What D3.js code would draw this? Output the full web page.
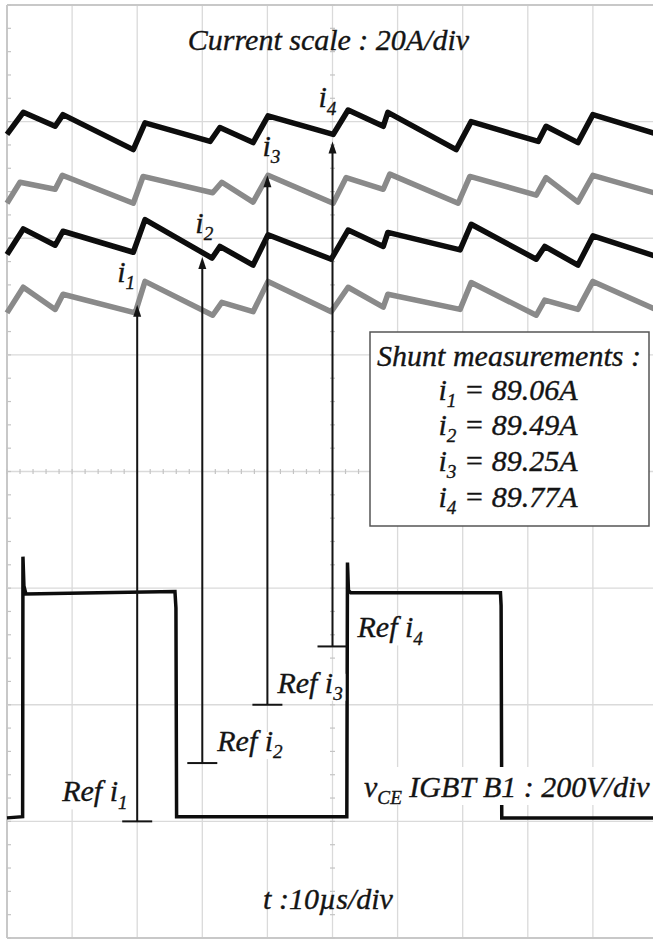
<!DOCTYPE html>
<html><head><meta charset="utf-8">
<script src="https://cdn.jsdelivr.net/npm/d3@7"></script>
</head><body style="margin:0"><svg id="c" width="653" height="940"></svg>
<script>
// ---- data (time in µs, amplitude in screen divisions) ----
const gridTime = [0,10,20,30,40,50,60,70,80,90,100];
const gridDiv = [0,1,2,3,4,5,6,7,8];

const tA = [0,2.5,7.4,8.6,19.4,21.2,31.2,32.7,37.8,40.1,50.1,52.4,57.8,58.5,69.0,71.3,81.6,82.8,87.7,90.0,100];
const yA = [6.89,7.08,6.96,7.06,6.76,6.99,6.83,6.95,6.82,7.05,6.89,7.10,6.96,7.08,6.76,7.00,6.83,6.96,6.82,7.06,6.89];

const tB = [0,2.0,7.4,8.5,19.4,20.9,31.6,33.0,37.8,40.1,50.1,52.1,57.8,58.8,69.3,71.1,81.3,82.8,87.7,90.0,100];
const yB = [6.30,6.48,6.42,6.54,6.30,6.53,6.39,6.48,6.31,6.54,6.30,6.52,6.42,6.55,6.30,6.53,6.37,6.52,6.31,6.54,6.38];

const tC = [0,2.5,7.4,8.6,19.4,21.2,31.5,32.7,37.8,40.1,49.8,52.4,57.8,58.5,69.6,71.3,81.3,82.6,87.7,90.0,100];
const yC = [5.86,6.08,5.94,6.06,5.88,6.16,5.83,5.93,5.77,6.03,5.82,6.07,5.93,6.05,5.90,6.12,5.82,5.93,5.77,6.02,5.84];

const tD = [0,2.5,7.4,8.6,19.7,21.2,31.6,33.0,37.8,40.1,49.8,52.4,57.8,58.5,69.6,71.3,81.3,82.6,87.7,90.0,100];
const yD = [5.36,5.58,5.39,5.52,5.36,5.63,5.34,5.45,5.37,5.63,5.37,5.58,5.41,5.52,5.39,5.62,5.34,5.47,5.39,5.63,5.38];

const tV = [0,2.4,2.45,2.6,2.9,14.0,25.8,25.95,26.05,52.2,52.3,52.45,52.8,64.0,75.8,75.9,76.0,100];
const yV = [1.03,1.04,3.27,3.02,2.95,2.96,2.97,2.83,1.04,1.04,3.22,2.98,2.96,2.96,2.96,2.85,1.03,1.03];

const arrowIdx = ["1","2","3","4"];
const arrowT = [20,30,40,50];
const arrowTip = [5.43,5.84,6.54,6.83];
const arrowRef = [1.0,1.5,2.0,2.5];
const shuntValues = ["89.06","89.49","89.25","89.77"];

const titleText = "Current scale : 20A/div";
const timeText = "t :10\u00B5s/div";
const boxTitle = "Shunt measurements :";

// ---- drawing ----
const svg = d3.select("#c");
const x = d3.scaleLinear().domain([0,100]).range([7,658]);
const y = d3.scaleLinear().domain([0,8]).range([938,5]);
const FS = 30;
const FF = "Liberation Serif";
const ink = "#141414";

const g = svg.append("g");
g.selectAll(".vg").data(gridTime).join("line")
  .attr("x1", d=>x(d)).attr("x2", d=>x(d)).attr("y1", y(8)).attr("y2", y(0))
  .attr("stroke", d=> (d===0? "#c8c8c8":"#dadada")).attr("stroke-width", d=> d===0?2:1.3);
g.selectAll(".hg").data(gridDiv).join("line")
  .attr("y1", d=>y(d)).attr("y2", d=>y(d)).attr("x1", x(0)).attr("x2", x(100))
  .attr("stroke", d=> (d===8||d===0? "#c8c8c8":"#dadada")).attr("stroke-width", d=> (d===8||d===0)?2:1.3);
const minorT = d3.range(0,100.01,2);
const minorD = d3.range(0,8.01,0.2);
g.selectAll(".mt").data(minorT).join("line")
  .attr("x1", d=>x(d)).attr("x2", d=>x(d)).attr("y1", y(4)-2.5).attr("y2", y(4)+2.5)
  .attr("stroke","#c4c4c4").attr("stroke-width",1.2);
g.selectAll(".md").data(minorD).join("line")
  .attr("y1", d=>y(d)).attr("y2", d=>y(d)).attr("x1", x(50)-2.5).attr("x2", x(50)+2.5)
  .attr("stroke","#c4c4c4").attr("stroke-width",1.2);
g.selectAll(".ml").data(minorD).join("line")
  .attr("y1", d=>y(d)).attr("y2", d=>y(d)).attr("x1", x(0)).attr("x2", x(0)+4)
  .attr("stroke","#c4c4c4").attr("stroke-width",1.2);

const line = d3.line().x(d=>x(d[0])).y(d=>y(d[1]));
const zip = (a,b)=>a.map((v,i)=>[v,b[i]]);
const traces = [
  {d: zip(tD,yD), c:"#8a8a8a", w:5.5},
  {d: zip(tC,yC), c:"#0d0d0d", w:5.5},
  {d: zip(tB,yB), c:"#8a8a8a", w:5.5},
  {d: zip(tA,yA), c:"#0d0d0d", w:5.5},
];
svg.append("g").selectAll("path").data(traces).join("path")
  .attr("d", d=>line(d.d)).attr("fill","none").attr("stroke", d=>d.c)
  .attr("stroke-width", d=>d.w).attr("stroke-linejoin","round");
svg.append("path").attr("d", line(zip(tV,yV))).attr("fill","none")
  .attr("stroke","#0d0d0d").attr("stroke-width",3.5);

function styled(t, fs){
  return t.style("font-family",FF).style("font-style","italic").style("font-size",fs+"px")
    .attr("fill",ink).attr("stroke",ink).attr("stroke-width",0.35);
}
function subText(main, sub, rest, fs){
  const t = styled(svg.append("text"), fs);
  t.append("tspan").text(main);
  t.append("tspan").style("font-size",(fs*0.64)+"px").attr("dy", fs*0.24).text(sub);
  if (rest) t.append("tspan").attr("dy", -fs*0.24).text(rest);
  return t;
}
function plainText(main, fs){
  return styled(svg.append("text"), fs).text(main);
}

// white backgrounds behind labels
const refLab = [[-75,-20],[15,-12],[10,-12],[25,-9]];
arrowT.forEach((t,i)=>{
  svg.append("rect").attr("x", x(t)+refLab[i][0]-2).attr("y", y(arrowRef[i])+refLab[i][1]-19)
    .attr("width",70).attr("height",27).attr("fill","#fff");
});
svg.append("rect").attr("x",358).attr("y",767).attr("width",300).attr("height",38).attr("fill","#fff");

// arrows
const ag = svg.append("g");
arrowT.forEach((t,i)=>{
  const xp = x(t), yt = y(arrowTip[i]), yr = y(arrowRef[i]);
  ag.append("line").attr("x1",xp).attr("x2",xp).attr("y1",yr).attr("y2",yt+8)
    .attr("stroke",ink).attr("stroke-width",2);
  ag.append("line").attr("x1",xp-15).attr("x2",xp+15).attr("y1",yr).attr("y2",yr)
    .attr("stroke",ink).attr("stroke-width",2);
  ag.append("path").attr("d",`M${xp},${yt} L${xp-4},${yt+12} L${xp+4},${yt+12} Z`).attr("fill",ink);
});

const iLab = [[-20,-23],[-7,-24],[-5,-19],[-14,-34]];
arrowT.forEach((t,i)=>{
  subText("i",arrowIdx[i],null,FS).attr("x", x(t)+iLab[i][0]).attr("y", y(arrowTip[i])+iLab[i][1]);
});
arrowT.forEach((t,i)=>{
  subText("Ref i",arrowIdx[i],null,FS).attr("x", x(t)+refLab[i][0]).attr("y", y(arrowRef[i])+refLab[i][1]);
});

subText("v","CE"," IGBT B1 : 200V/div",FS).attr("x",364).attr("y",797);

plainText(titleText,FS).attr("x",328.5).attr("y",50).attr("text-anchor","middle");
plainText(timeText,FS).attr("x",328).attr("y",909).attr("text-anchor","middle");

svg.append("rect").attr("x",370).attr("y",332).attr("width",279).attr("height",194)
  .attr("fill","#fff").attr("stroke","#555").attr("stroke-width",1.5);
plainText(boxTitle,FS).attr("x",509).attr("y",366).attr("text-anchor","middle");
const rowY = [400,435,471,507];
shuntValues.forEach((v,i)=>{
  subText("i",arrowIdx[i]," = "+v+"A",FS).attr("x",508).attr("y",rowY[i]).attr("text-anchor","middle");
});
</script></body></html>
